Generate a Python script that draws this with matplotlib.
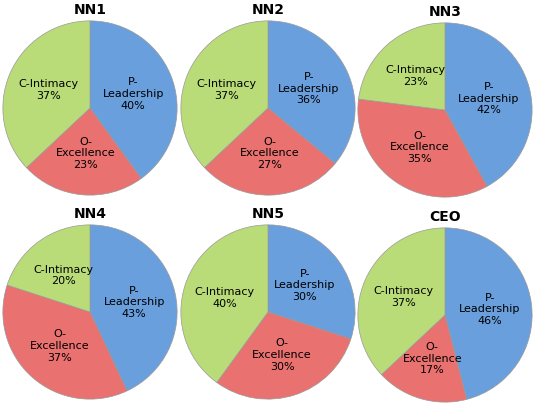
import matplotlib
matplotlib.use("Agg")
import matplotlib.pyplot as plt

titles = ["NN1", "NN2", "NN3", "NN4", "NN5", "CEO"]
categories = ["P-\nLeadership", "O-\nExcellence", "C-Intimacy"]
values = [[40, 23, 37], [36, 27, 37], [42, 35, 23],
          [43, 37, 20], [30, 30, 40], [46, 17, 37]]
colors = ["#6a9fde", "#e9716f", "#b9dc78"]

fig = plt.figure(figsize=(5.37, 4.08), dpi=100)
W, H = 537, 408
centers = [(90, 108), (268, 108), (445, 110), (90, 312), (268, 312), (445, 315)]
r = 88
for (cx, cy), t, v in zip(centers, titles, values):
    ax = fig.add_axes([(cx - r) / W, 1 - (cy + r) / H, 2 * r / W, 2 * r / H])
    labels = [f"{c}\n{p}%" for c, p in zip(categories, v)]
    wedges, texts = ax.pie(v, colors=colors, startangle=90, counterclock=False,
                           labels=labels, labeldistance=0.52,
                           wedgeprops=dict(edgecolor="#999999", linewidth=0.5),
                           textprops=dict(fontsize=8, ha="center", va="center",
                                          multialignment="center"))
    ax.set_xlim(-1.01, 1.01)
    ax.set_ylim(-1.01, 1.01)
    ax.set_aspect("equal")
    fig.text(cx / W, 1 - (cy - r - 10) / H, t, ha="center", va="center",
             fontsize=10, fontweight="bold")

fig.savefig("out.png", dpi=100)
